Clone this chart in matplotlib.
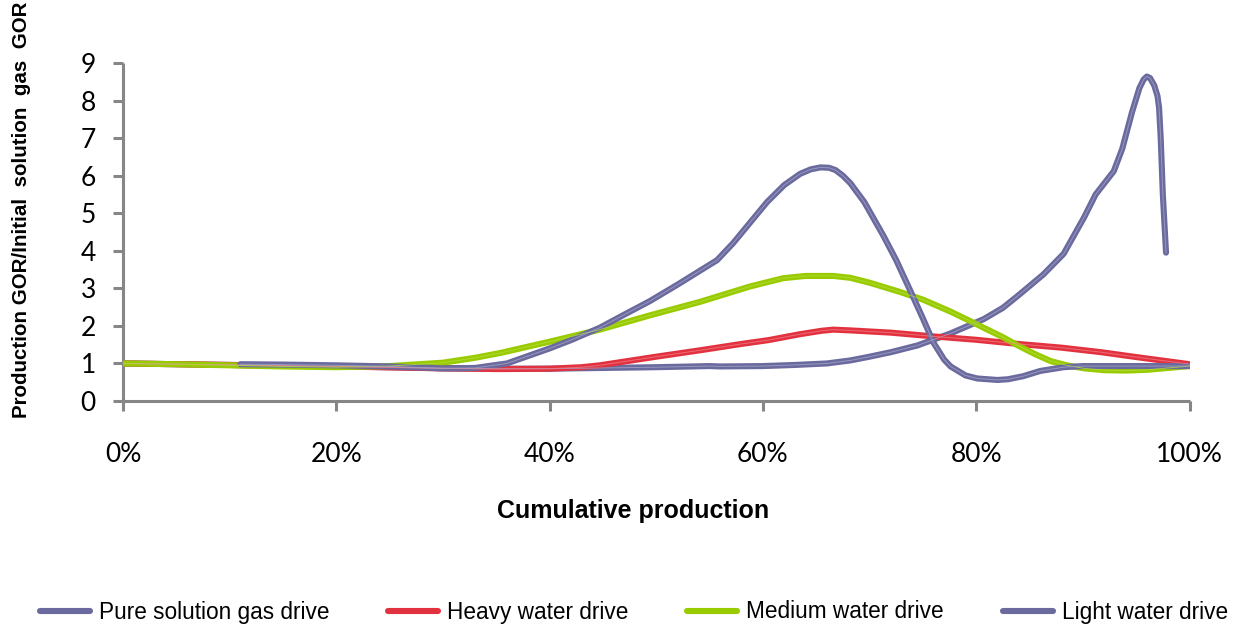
import matplotlib
matplotlib.use("Agg")
import matplotlib.pyplot as plt
from matplotlib import font_manager
from matplotlib.ticker import FuncFormatter

# Cumulative production (fraction) and GOR ratio for each drive mechanism
pure_x = [0.0, 0.05, 0.10, 0.15, 0.20, 0.25, 0.30, 0.35, 0.40, 0.45, 0.50, 0.55, 0.56,
          0.60, 0.63, 0.66, 0.682, 0.70, 0.72, 0.745, 0.776, 0.807, 0.825, 0.839, 0.863,
          0.882, 0.901, 0.912, 0.929, 0.937, 0.946, 0.953, 0.957, 0.960, 0.963, 0.967,
          0.970, 0.9715, 0.973, 0.975, 0.978]
pure_y = [1.00, 0.98, 0.96, 0.94, 0.92, 0.90, 0.87, 0.86, 0.86, 0.88, 0.90, 0.93, 0.92,
          0.93, 0.96, 1.00, 1.08, 1.18, 1.30, 1.48, 1.80, 2.18, 2.48, 2.80, 3.37,
          3.92, 4.88, 5.50, 6.12, 6.72, 7.68, 8.33, 8.56, 8.64, 8.60, 8.40,
          8.12, 7.80, 7.00, 5.50, 3.95]

heavy_x = [0.0, 0.10, 0.20, 0.30, 0.354, 0.40, 0.43, 0.447, 0.47, 0.50, 0.541, 0.58,
           0.605, 0.635, 0.655, 0.666, 0.682, 0.72, 0.76, 0.80, 0.839, 0.88, 0.917,
           0.95, 1.0]
heavy_y = [1.00, 0.96, 0.92, 0.87, 0.85, 0.86, 0.90, 0.95, 1.05, 1.18, 1.35, 1.52,
           1.62, 1.78, 1.87, 1.90, 1.88, 1.82, 1.72, 1.63, 1.52, 1.42, 1.30,
           1.17, 0.98]

medium_x = [0.0, 0.05, 0.10, 0.15, 0.20, 0.25, 0.30, 0.33, 0.354, 0.40, 0.447, 0.494,
            0.541, 0.588, 0.619, 0.64, 0.666, 0.682, 0.70, 0.729, 0.75, 0.776, 0.80,
            0.807, 0.825, 0.839, 0.855, 0.87, 0.885, 0.901, 0.92, 0.94, 0.96, 1.0]
medium_y = [1.00, 0.98, 0.95, 0.92, 0.90, 0.93, 1.02, 1.15, 1.28, 1.58, 1.90, 2.28,
            2.64, 3.05, 3.27, 3.33, 3.33, 3.28, 3.15, 2.90, 2.70, 2.38, 2.05,
            1.95, 1.70, 1.48, 1.25, 1.06, 0.95, 0.87, 0.82, 0.81, 0.83, 0.93]

light_x = [0.11, 0.15, 0.20, 0.25, 0.30, 0.33, 0.36, 0.40, 0.42, 0.447, 0.47, 0.494,
           0.52, 0.557, 0.572, 0.588, 0.604, 0.62, 0.635, 0.645, 0.654, 0.662, 0.668,
           0.675, 0.682, 0.695, 0.713, 0.725, 0.738, 0.75, 0.76, 0.77, 0.776, 0.79,
           0.801, 0.82, 0.83, 0.844, 0.86, 0.882, 0.90, 1.0]
light_y = [0.98, 0.97, 0.95, 0.92, 0.87, 0.88, 1.00, 1.40, 1.62, 1.95, 2.30, 2.66,
           3.10, 3.75, 4.20, 4.75, 5.30, 5.75, 6.05, 6.17, 6.22, 6.21, 6.15,
           6.00, 5.80, 5.30, 4.40, 3.75, 2.95, 2.20, 1.55, 1.10, 0.92, 0.68,
           0.60, 0.56, 0.58, 0.66, 0.80, 0.90, 0.93, 0.93]

series = [
    ("Pure solution gas drive", pure_x, pure_y, "#6a6a9e", "#a3a3c8"),
    ("Heavy water drive", heavy_x, heavy_y, "#e2323f", "#f07a84"),
    ("Medium water drive", medium_x, medium_y, "#99cc00", "#b5da40"),
    ("Light water drive", light_x, light_y, "#6a6a9e", "#a3a3c8"),
]

x_ticks = [0.0, 0.2, 0.4, 0.6, 0.8, 1.0]
y_ticks = list(range(0, 10))

W, H = 1233, 626
fig = plt.figure(figsize=(W / 100, H / 100), dpi=100)
ax = fig.add_axes([123 / W, 1 - 401 / H, (1189.5 - 123) / W, (401 - 63) / H])

handles = []
for name, xs, ys, col, inner in series:
    ln, = ax.plot(xs, ys, color=col, lw=4.4, solid_capstyle="round",
                  solid_joinstyle="round", label=name, zorder=3)
    ax.plot(xs, ys, color=inner, lw=0.7, solid_capstyle="round",
            solid_joinstyle="round", zorder=3.1, alpha=0.8)
    handles.append(ln)

ax.set_xlim(0, 1.0)
ax.set_ylim(0, 9)
ax.set_xticks(x_ticks)
ax.set_yticks(y_ticks)
ax.xaxis.set_major_formatter(FuncFormatter(lambda v, p: f"{v * 100:.0f}%"))

grey = "#868686"
for side in ("top", "right"):
    ax.spines[side].set_visible(False)
for side in ("left", "bottom"):
    ax.spines[side].set_color(grey)
    ax.spines[side].set_linewidth(2.2)
    ax.spines[side].set_capstyle("butt")
ax.tick_params(axis="both", colors=grey, width=2.2, length=7.5, direction="out",
               labelcolor="black", labelsize=19)
ax.tick_params(axis="x", pad=22)
ax.tick_params(axis="y", pad=12)
for lab in ax.get_xticklabels() + ax.get_yticklabels():
    lab.set_fontfamily("Lato")

fig.text(633 / W, 1 - 511 / H, "Cumulative production", ha="center", va="center",
         fontsize=18, fontweight="bold", family="Liberation Sans")

# Vertical axis title in a narrow face so it fits the figure height
try:
    font_manager.findfont(font_manager.FontProperties(family="Liberation Sans Narrow",
                                                      weight="bold"),
                          fallback_to_default=False)
    ylab_family, ylab_size = "Liberation Sans Narrow", 18
except Exception:
    ylab_family, ylab_size = "Liberation Sans", 14.8
fig.text(22 / W, 1 - 210 / H, "Production GOR/Initial  solution  gas  GOR",
         ha="center", va="center", rotation=90, fontsize=ylab_size, fontweight="bold",
         family=ylab_family)

leg = fig.legend(handles=handles, loc="center", bbox_to_anchor=(634 / W, 1 - 612 / H),
                 ncol=4, frameon=False, prop={"family": "Liberation Sans", "size": 16.3},
                 handlelength=2.2, handletextpad=0.4, columnspacing=2.6)
for lh in leg.get_lines():
    lh.set_linewidth(4.4)

fig.savefig("out.png", dpi=100)
